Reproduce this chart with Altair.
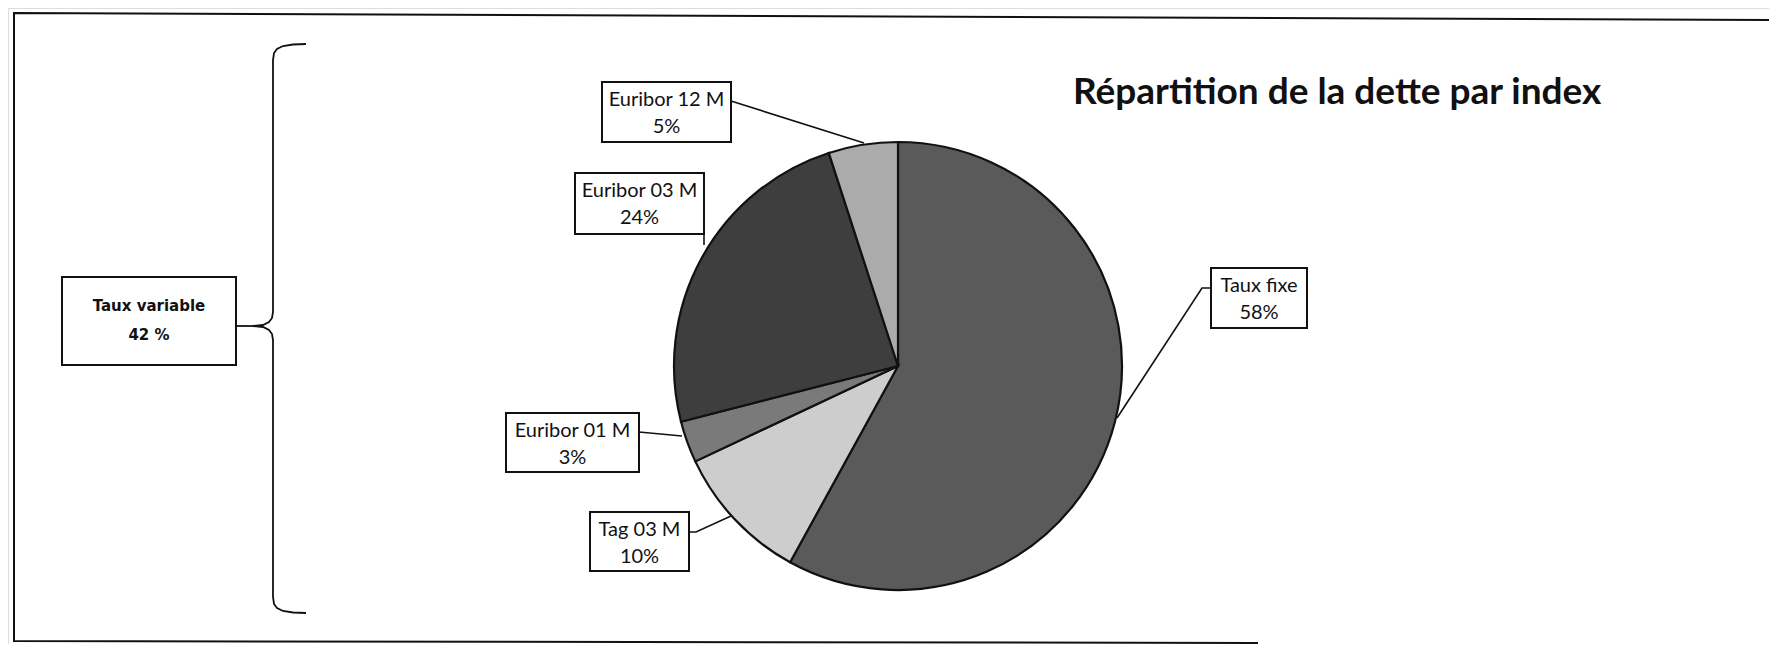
import altair as alt
import pandas as pd

# ---------------- data ----------------
categories = ["Taux fixe", "Tag 03 M", "Euribor 01 M", "Euribor 03 M", "Euribor 12 M"]
shares = [58, 10, 3, 24, 5]
slice_colors = ["#5a5a5a", "#cdcdcd", "#7a7a7a", "#3e3e3e", "#ababab"]
title_text = "Répartition de la dette par index"
group_label = "Taux variable"
group_share = "42 %"

# ---------------- layout (page pixel coordinates) ----------------
W, H = 1761, 636
PIE_CX, PIE_CY, PIE_R = 898, 366, 224
# label boxes: left, right, top, bottom
box_left = [1211, 590, 506, 575, 602]
box_right = [1307, 689, 639, 704, 731]
box_top = [268, 512, 413, 173, 82]
box_bottom = [328, 571, 472, 234, 142]
# leader polylines
leaders = [
    [(1211, 288), (1202, 288), (1117, 418)],
    [(689, 532), (696, 532), (731, 516)],
    [(639, 432), (682, 436)],
    [(704, 230), (704, 245)],
    [(731, 101), (864, 143)],
]
# group box
gbox = (62, 236, 277, 365)

xs = alt.Scale(domain=[8, 8 + W], range=[0, W], nice=False, zero=False)
ys = alt.Scale(domain=[8, 8 + H], range=[0, H], nice=False, zero=False)
X = lambda f: alt.X(f, type="quantitative", scale=xs, axis=None)
Y = lambda f: alt.Y(f, type="quantitative", scale=ys, axis=None)
X2 = lambda f: alt.X2(f)
Y2 = lambda f: alt.Y2(f)

# pie
pie_df = pd.DataFrame({"cat": categories, "value": shares, "ord": list(range(len(categories)))})
pie = alt.Chart(pie_df).mark_arc(outerRadius=PIE_R, stroke="#111111", strokeWidth=2.2).encode(
    theta=alt.Theta("value:Q", stack=True),
    order=alt.Order("ord:Q"),
    color=alt.Color("cat:N", scale=alt.Scale(domain=categories, range=slice_colors), legend=None),
    x=alt.value(PIE_CX - 8),
    y=alt.value(PIE_CY - 8),
)

# polylines (leaders, brace, frame)
rows = []
for k, pts in enumerate(leaders):
    for i, (px, py) in enumerate(pts):
        rows.append({"seg": f"L{k}", "i": i, "x": px, "y": py, "w": 1.6})

brace_pts = [
    (306, 44), (293, 44.5), (283, 46), (277, 49), (274, 53), (273, 60),
    (273, 312), (272, 318), (269, 322), (263, 325), (253, 326),
    (263, 327), (269, 330), (272, 334), (273, 340),
    (273, 597), (274, 604), (277, 608), (283, 611), (293, 612.5), (306, 613),
]
for i, (px, py) in enumerate(brace_pts):
    rows.append({"seg": "brace", "i": i, "x": px, "y": py, "w": 1.8})
for i, (px, py) in enumerate([(236, 326), (253, 326)]):
    rows.append({"seg": "gconn", "i": i, "x": px, "y": py, "w": 1.8})
for i, (px, py) in enumerate([(1769, 20), (14, 13), (14, 641), (1258, 643)]):
    rows.append({"seg": "frame", "i": i, "x": px, "y": py, "w": 2})
lines_df = pd.DataFrame(rows)
lines = alt.Chart(lines_df).mark_line(color="#111111").encode(
    x=X("x"), y=Y("y"), detail="seg:N", order="i:Q",
    strokeWidth=alt.StrokeWidth("w:Q", scale=None, legend=None),
)

# boxes
box_df = pd.DataFrame({"l": box_left + [gbox[0]], "r": box_right + [gbox[1]],
                       "t": box_top + [gbox[2]], "b": box_bottom + [gbox[3]]})
boxes = alt.Chart(box_df).mark_rect(fill="white", stroke="#111111", strokeWidth=2).encode(
    x=X("l"), x2=X2("r"), y=Y("t"), y2=Y2("b"))

# label texts
txt_rows = []
for c, v, l, r, t in zip(categories, shares, box_left, box_right, box_top):
    cx = (l + r) / 2
    txt_rows.append({"x": cx, "y": t + 18, "txt": c})
    txt_rows.append({"x": cx, "y": t + 45, "txt": f"{v}%"})
txt_df = pd.DataFrame(txt_rows)
labels = alt.Chart(txt_df).mark_text(font="Lato", fontSize=20, color="#111111",
                                     baseline="middle", align="center").encode(
    x=X("x"), y=Y("y"), text="txt:N")

g_df = pd.DataFrame({"x": [(gbox[0] + gbox[1]) / 2] * 2,
                     "y": [gbox[2] + 29, gbox[2] + 58],
                     "txt": [group_label, group_share]})
gtext = alt.Chart(g_df).mark_text(font="DejaVu Sans", fontWeight="bold", fontSize=15,
                                  color="#111111", baseline="middle", align="center").encode(
    x=X("x"), y=Y("y"), text="txt:N")

t_df = pd.DataFrame({"x": [1073], "y": [104], "txt": [title_text]})
title = alt.Chart(t_df).mark_text(font="Lato", fontWeight="bold", fontSize=37, color="#111111",
                                  baseline="alphabetic", align="left").encode(
    x=X("x"), y=Y("y"), text="txt:N")

chart = alt.layer(pie, lines, boxes, labels, gtext, title).properties(
    width=W, height=H, padding=0, autosize=alt.AutoSizeParams(type="none"),
).configure_view(stroke=None).configure(background="white")

chart.save("out.html", embed_options={"renderer": "svg", "actions": False})
